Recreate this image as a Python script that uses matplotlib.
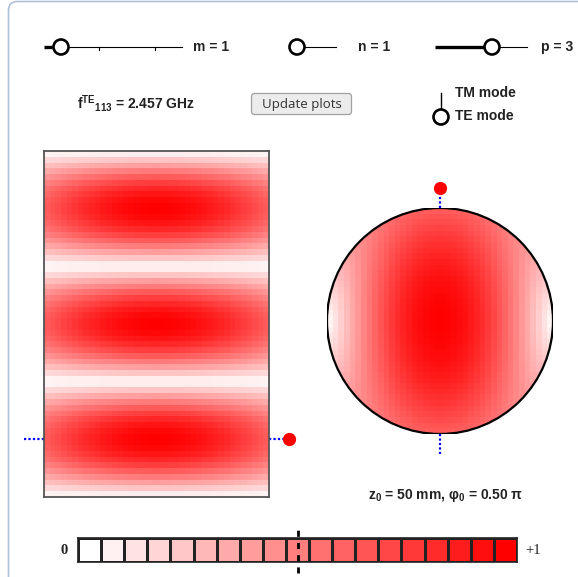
import numpy as np
import matplotlib
matplotlib.use("Agg")
import matplotlib.pyplot as plt
from matplotlib.colors import LinearSegmentedColormap
from matplotlib.patches import Circle, FancyBboxPatch

plt.rcParams["mathtext.fontset"] = "custom"
plt.rcParams["mathtext.rm"] = "Liberation Sans:bold"
plt.rcParams["mathtext.bf"] = "Liberation Sans:bold"
plt.rcParams["mathtext.it"] = "Liberation Sans:bold"
plt.rcParams["mathtext.sf"] = "Liberation Sans:bold"

# ---------------- data ----------------
m_index, n_index, p_index = 1, 1, 3
freq_ghz = 2.457
z0_mm = 50
phi0_pi = 0.50
cav_radius_mm = 45.0
cav_length_mm = 300.0
cbar_marker = 0.50

# |E| across the diameter in the side view (phi = phi0), centre -> wall (20 cells)
radial_profile = [1.000, 0.998, 0.993, 0.987, 0.979, 0.968, 0.956, 0.942, 0.925, 0.907,
                  0.888, 0.866, 0.843, 0.819, 0.793, 0.766, 0.738, 0.709, 0.679, 0.648]
# |E| along the diameter perpendicular to phi0, centre -> wall (20 cells)
azim_profile = [0.999, 0.993, 0.980, 0.961, 0.936, 0.906, 0.869, 0.827, 0.780, 0.728,
                0.672, 0.611, 0.547, 0.480, 0.410, 0.338, 0.264, 0.189, 0.114, 0.038]
# axial profile across one lobe (20 cells)
lobe_profile = [0.078, 0.233, 0.383, 0.522, 0.649, 0.760, 0.853, 0.924, 0.972, 0.997,
                0.997, 0.972, 0.924, 0.853, 0.760, 0.649, 0.522, 0.383, 0.233, 0.078]
# colour scale swatches
cbar_levels = [0.000, 0.056, 0.111, 0.167, 0.222, 0.278, 0.333, 0.389, 0.444, 0.500,
               0.556, 0.611, 0.667, 0.722, 0.778, 0.833, 0.889, 0.944, 1.000]
cbar_labels = ["0", "+1"]

# ---------------- figure ----------------
W, H = 578, 577
fig = plt.figure(figsize=(W / 100, H / 100), dpi=100)
fig.patch.set_facecolor("white")

def box(x0, y0, x1, y1):
    return [x0 / W, 1 - y1 / H, (x1 - x0) / W, (y1 - y0) / H]

cmap = LinearSegmentedColormap.from_list("wr", ["#ffffff", "#ff0000"])
SANS = ["Liberation Sans", "DejaVu Sans"]
TXT = dict(family=SANS, weight="bold", fontsize=10, va="center", color="#222222")

# overlay for the widget decorations
ui = fig.add_axes([0, 0, 1, 1], zorder=0)
ui.set_xlim(0, W)
ui.set_ylim(H, 0)
ui.axis("off")

ui.add_patch(FancyBboxPatch((8.5, 1.5), 620, 620, boxstyle="round,pad=0,rounding_size=9",
                            fc="none", ec="#aebfd8", lw=1.2))

knob_kw = dict(fc="white", ec="black", lw=1.9, zorder=5)
# m slider
ui.plot([44, 52], [47, 47], color="black", lw=2.4, solid_capstyle="butt")
ui.plot([52, 182], [47, 47], color="black", lw=0.8)
for tx in (99, 155):
    ui.plot([tx, tx], [47, 50], color="black", lw=0.8)
ui.add_patch(Circle((61, 47), 7.5, **knob_kw))
ui.text(193, 47, f"m = {m_index}", **TXT)
# n slider
ui.plot([297, 336], [47, 47], color="black", lw=0.8)
ui.add_patch(Circle((297, 47), 7.5, **knob_kw))
ui.text(358, 47, f"n = {n_index}", **TXT)
# p slider
ui.plot([435, 492], [47, 47], color="black", lw=2.4, solid_capstyle="butt")
ui.plot([492, 527], [47, 47], color="black", lw=0.8)
ui.add_patch(Circle((492, 47), 7.5, **knob_kw))
ui.text(541, 47, f"p = {p_index}", **TXT)

# frequency label
ui.text(77, 103, r"$\mathrm{f}^{\mathrm{TE}}{}_{\mathrm{" + f"{m_index}{n_index}{p_index}" + r"}}$"
        + f" = {freq_ghz:.3f} GHz", **TXT)

# update button
ui.add_patch(FancyBboxPatch((251.5, 93.5), 100, 21, boxstyle="round,pad=0,rounding_size=3",
                            fc="#ececec", ec="#a0a0a0", lw=0.9))
ui.text(301.5, 104.5, "Update plots", family=["Open Sans", "DejaVu Sans"], fontsize=9.5,
        ha="center", va="center", color="#333333")

# mode toggle
ui.plot([441, 441], [93, 109], color="black", lw=1.0)
ui.add_patch(Circle((441, 117), 7.5, **knob_kw))
ui.text(455, 93, "TM mode", **TXT)
ui.text(455, 116, "TE mode", **TXT)

# slice label
ui.text(368, 496, r"$\mathrm{z}_0$" + f" = {z0_mm} mm, " + r"$\mathrm{\u03c6}_0$".replace("\\u03c6", "\u03c6")
        + f" = {phi0_pi:.2f} \u03c0", **TXT)

# ---------------- side view ----------------
a = cav_radius_mm
d = cav_length_mm
ax1 = fig.add_axes(box(44, 151, 269, 497), zorder=2)
across = np.r_[radial_profile[::-1], radial_profile]
along = np.tile(lobe_profile, p_index)
side = np.outer(along, across)
xe = np.linspace(-a, a, len(across) + 1)
ze = np.linspace(0, d, len(along) + 1)
ax1.pcolormesh(xe, ze, side, cmap=cmap, vmin=0, vmax=1, shading="flat")
ax1.set_xlim(-a, a)
ax1.set_ylim(0, d)
ax1.set_xticks([])
ax1.set_yticks([])
for s in ax1.spines.values():
    s.set_color("#555555")
    s.set_linewidth(1.3)
ax1.plot([-1.18 * a, -a], [z0_mm, z0_mm], color="blue", lw=1.6, ls=(0, (1, 1)), clip_on=False)
ax1.plot([a, 1.14 * a], [z0_mm, z0_mm], color="blue", lw=1.6, ls=(0, (1, 1)), clip_on=False)
ax1.plot([1.178 * a], [z0_mm], "o", color="red", ms=8.5, mec="red", clip_on=False, zorder=6)

# ---------------- cross section ----------------
ax2 = fig.add_axes(box(327, 208, 553, 434), zorder=2)
n_cells = len(across)
ce = np.linspace(-a, a, n_cells + 1)
cc = 0.5 * (ce[:-1] + ce[1:])
X, Y = np.meshgrid(cc, cc)
u = np.hypot(X, Y) / a
ang = np.arctan2(Y, X) - (phi0_pi - 0.5) * np.pi
u_pts = (np.arange(len(radial_profile)) + 0.5) / len(radial_profile)
er = np.interp(u, u_pts, radial_profile)
ep = np.interp(u, u_pts, azim_profile)
zfac = along[int(z0_mm / d * len(along))]
cross = np.sqrt((er * np.sin(ang)) ** 2 + (ep * np.cos(ang)) ** 2) * zfac
mesh = ax2.pcolormesh(ce, ce, cross, cmap=cmap, vmin=0, vmax=1, shading="flat")
clip = Circle((0, 0), a, transform=ax2.transData)
mesh.set_clip_path(clip)
ax2.add_patch(Circle((0, 0), a, fc="none", ec="black", lw=1.6, zorder=4))
ax2.set_xlim(-a, a)
ax2.set_ylim(-a, a)
ax2.axis("off")
ph = phi0_pi * np.pi
ax2.plot([a * np.cos(ph), 1.15 * a * np.cos(ph)], [a * np.sin(ph), 1.15 * a * np.sin(ph)],
         color="blue", lw=1.6, ls=(0, (1, 1)), clip_on=False)
ax2.plot([-a * np.cos(ph), -1.19 * a * np.cos(ph)], [-a * np.sin(ph), -1.19 * a * np.sin(ph)],
         color="blue", lw=1.6, ls=(0, (1, 1)), clip_on=False)
ax2.plot([1.18 * a * np.cos(ph)], [1.18 * a * np.sin(ph)], "o", color="red", ms=8.5, mec="red",
         clip_on=False, zorder=6)

# ---------------- colour scale ----------------
ax3 = fig.add_axes(box(78, 538, 517, 562), zorder=2)
ax3.pcolormesh(np.arange(len(cbar_levels) + 1), [0, 1], np.array([cbar_levels]), cmap=cmap,
               vmin=0, vmax=1, edgecolors="#222222", linewidth=1.0)
ax3.set_xlim(0, len(cbar_levels))
ax3.set_ylim(0, 1)
ax3.set_xticks([])
ax3.set_yticks([])
for s in ax3.spines.values():
    s.set_color("#222222")
    s.set_linewidth(1.2)
mx = cbar_marker * (len(cbar_levels) - 1) + 0.5
ax3.plot([mx, mx], [-0.45, 1.47], color="black", lw=2.0, ls=(0, (2.2, 2.2)), clip_on=False, zorder=5)
ax3.text(-0.45, 0.5, cbar_labels[0], ha="right", va="center",
         family=["Liberation Serif", "DejaVu Serif"], fontsize=10.5, weight="bold", color="#222222")
ax3.text(len(cbar_levels) + 0.35, 0.5, cbar_labels[1], ha="left", va="center",
         family=["Liberation Serif", "DejaVu Serif"], fontsize=10.5, color="#222222")

fig.savefig("out.png", dpi=100)
